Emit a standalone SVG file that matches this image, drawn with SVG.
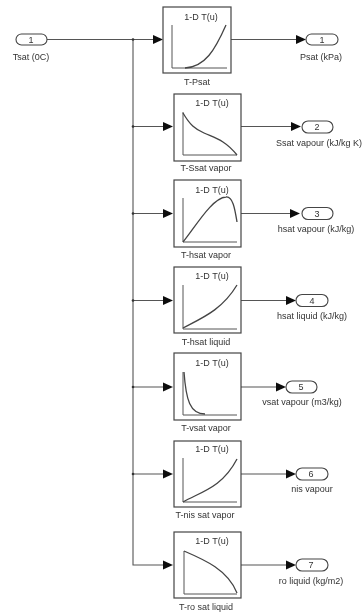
<svg xmlns="http://www.w3.org/2000/svg" width="364" height="613" viewBox="0 0 364 613">
<style>
text{font-family:"Liberation Sans",Arial,sans-serif;font-size:9px;fill:#333;text-anchor:middle}
.b{fill:#fff;stroke:#444;stroke-width:1.2}
.p{fill:#fff;stroke:#444;stroke-width:1.1}
.ax{fill:none;stroke:#555;stroke-width:1}
.c{fill:none;stroke:#444;stroke-width:1.300}
.w{fill:none;stroke:#555;stroke-width:1.1}
.h{fill:#111}
.d{fill:#333}
</style>
<defs>
<filter id="s" x="-5%" y="-5%" width="110%" height="110%"><feGaussianBlur stdDeviation="0.5"/></filter>
<path id="a" class="h" d="M0-4.500L10 0L0 4.500Z"/>
</defs>
<rect width="364" height="613" fill="#fff"/>
<g filter="url(#s)">
<g id="connectors">
<path class="w" d="M47 39.500H155M133 39.500V565H164M133 126.500H164M133 213.500H164M133 300.500H164M133 387H164M133 474H164"/>
<path class="w" d="M231 39.500H297M241 126.500H292M241 213.500H291M241 300.500H287M241 387H277M241 474H287M241 565H287"/>
<circle class="d" cx="133" cy="39.500" r="1.300"/><circle class="d" cx="133" cy="126.500" r="1.300"/><circle class="d" cx="133" cy="213.500" r="1.300"/><circle class="d" cx="133" cy="300.500" r="1.300"/><circle class="d" cx="133" cy="387" r="1.300"/><circle class="d" cx="133" cy="474" r="1.300"/>
<use href="#a" x="153" y="39.500"/><use href="#a" x="163" y="126.500"/><use href="#a" x="163" y="213.500"/><use href="#a" x="163" y="300.500"/><use href="#a" x="163" y="387"/><use href="#a" x="163" y="474"/><use href="#a" x="163" y="565"/>
<use href="#a" x="296" y="39.500"/><use href="#a" x="291" y="126.500"/><use href="#a" x="290" y="213.500"/><use href="#a" x="286" y="300.500"/><use href="#a" x="276" y="387"/><use href="#a" x="286" y="474"/><use href="#a" x="286" y="565"/>
</g>
<g id="in1"><rect class="p" x="16" y="34" width="31" height="11" rx="5.500"/><text x="31" y="43">1</text><text x="31" y="60">Tsat (0C)</text></g>
<g id="t-psat"><rect class="b" x="163" y="7" width="68" height="66"/><text x="201" y="20">1-D T(u)</text><path class="ax" d="M172 25V68H227"/><path class="c" d="M185 68C205 67 215 50 226 25"/><text x="197" y="85">T-Psat</text></g>
<g id="t-ssat"><rect class="b" x="174" y="94" width="67" height="67"/><text x="212" y="106">1-D T(u)</text><path class="ax" d="M183 112V155H237"/><path class="c" d="M183 113C190 125 195 129 204 133C215 138 225 140 237 155"/><text x="206" y="171">T-Ssat vapor</text></g>
<g id="t-hsat-v"><rect class="b" x="174" y="180" width="67" height="67"/><text x="212" y="193">1-D T(u)</text><path class="ax" d="M183 198V242H237"/><path class="c" d="M183 242C196 226 212 198 226 197C233 196 235 210 237 222"/><text x="206" y="258">T-hsat vapor</text></g>
<g id="t-hsat-l"><rect class="b" x="174" y="267" width="67" height="66"/><text x="212" y="279">1-D T(u)</text><path class="ax" d="M183 285V329H237"/><path class="c" d="M183 328C202 318 222 310 237 285"/><text x="206" y="345">T-hsat liquid</text></g>
<g id="t-vsat"><rect class="b" x="174" y="353" width="67" height="67"/><text x="212" y="366">1-D T(u)</text><path class="ax" d="M183 372V415H237"/><path class="c" d="M184 372C186 400 190 414 205 414"/><text x="206" y="431">T-vsat vapor</text></g>
<g id="t-nis"><rect class="b" x="174" y="441" width="67" height="66"/><text x="212" y="452">1-D T(u)</text><path class="ax" d="M183 458V502H237"/><path class="c" d="M183 502C200 492 222 488 237 459"/><text x="205" y="518">T-nis sat vapor</text></g>
<g id="t-ro"><rect class="b" x="174" y="532" width="67" height="66"/><text x="212" y="544">1-D T(u)</text><path class="ax" d="M184 551V594H237"/><path class="c" d="M184 551C205 560 228 570 237 593"/><text x="206" y="610">T-ro sat liquid</text></g>
<g id="o1"><rect class="p" x="306" y="34" width="32" height="11" rx="5.500"/><text x="322" y="43">1</text><text x="321" y="60">Psat (kPa)</text></g>
<g id="o2"><rect class="p" x="302" y="121" width="31" height="12" rx="6"/><text x="317" y="130">2</text><text x="319" y="146">Ssat vapour (kJ/kg K)</text></g>
<g id="o3"><rect class="p" x="302" y="207.500" width="31" height="12" rx="6"/><text x="317" y="216.500">3</text><text x="316" y="232">hsat vapour (kJ/kg)</text></g>
<g id="o4"><rect class="p" x="296" y="294.500" width="32" height="12" rx="6"/><text x="312" y="303.500">4</text><text x="312" y="319">hsat liquid (kJ/kg)</text></g>
<g id="o5"><rect class="p" x="286" y="381" width="31" height="12" rx="6"/><text x="301" y="390">5</text><text x="302" y="405">vsat vapour (m3/kg)</text></g>
<g id="o6"><rect class="p" x="296" y="468" width="32" height="12" rx="6"/><text x="311" y="477">6</text><text x="312" y="492">nis vapour</text></g>
<g id="o7"><rect class="p" x="296" y="559" width="32" height="12" rx="6"/><text x="311" y="568">7</text><text x="311" y="584">ro liquid (kg/m2)</text></g>
</g>
</svg>
